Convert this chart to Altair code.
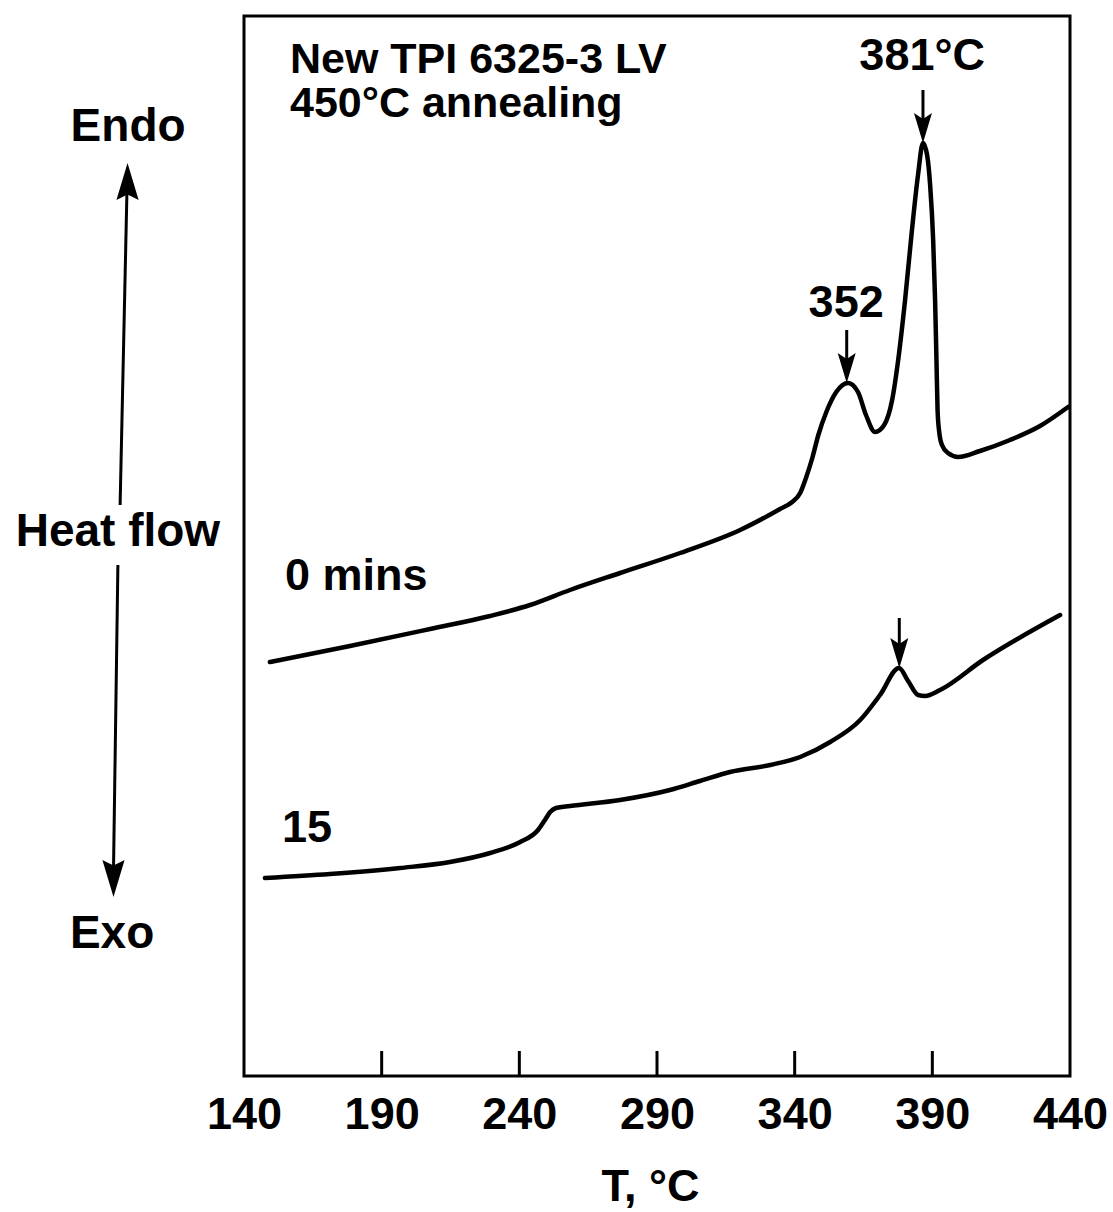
import altair as alt
import pandas as pd

FONT = "Liberation Sans"

# DSC trace, 0 mins annealing (T in deg C, heat flow in arbitrary units)
T_0 = [149.4, 178.5, 207.6, 229.4, 243.9, 258.4, 276.6, 298.4, 320.2, 334.7,
       339.1, 342.0, 344.1, 346.4, 348.6, 351.5, 355.1, 359.4, 363.0, 365.9,
       369.2, 372.5, 375.4, 377.6, 380.1, 382.6, 384.8, 386.6, 388.1, 389.2,
       390.3, 391.0, 391.5, 391.9, 392.5, 393.5, 395.7, 399.4, 407.3, 418.2,
       429.1, 439.3]
HF_0 = [41.4, 43.0, 44.7, 46.0, 47.1, 48.6, 50.3, 52.3, 54.6, 56.7,
        57.4, 58.3, 59.8, 61.8, 64.1, 66.4, 68.4, 69.3, 68.4, 66.1,
        64.4, 65.1, 67.6, 71.6, 77.6, 84.6, 90.1, 93.3, 92.1, 89.1,
        83.6, 77.6, 71.6, 66.6, 64.4, 63.1, 62.3, 61.9, 62.5, 63.6,
        65.0, 66.9]

# DSC trace, 15 mins annealing
T_15 = [147.6, 171.2, 196.7, 214.8, 229.4, 240.3, 246.8, 249.3, 251.2, 253.3,
        258.4, 276.6, 294.7, 305.6, 316.5, 331.1, 342.0, 352.9, 363.8, 371.0,
        377.9, 381.2, 384.8, 387.4, 392.8, 408.4, 436.4]
HF_15 = [19.8, 20.2, 20.8, 21.4, 22.3, 23.4, 24.6, 25.6, 26.4, 26.8,
         27.0, 27.6, 28.6, 29.5, 30.4, 31.1, 31.9, 33.4, 35.6, 38.1,
         40.8, 39.5, 38.1, 38.0, 38.6, 41.6, 46.1]

TICK_LABELS = [140, 190, 240, 290, 340, 390, 440]
INNER_TICKS = [190, 240, 290, 340, 390]

# peak arrows inside the plot
ARROW_T = [386.6, 358.9, 378.0]
ARROW_FROM = [98.6, 74.6, 45.8]
ARROW_TIP = [93.3, 69.3, 40.8]

# text annotations inside the plot
LABEL_TEXT = ["New TPI 6325-3 LV", "450°C annealing", "0 mins", "15"]
LABEL_T = [156.7, 156.7, 154.9, 153.8]
LABEL_HF = [100.3, 95.9, 48.6, 23.4]
LABEL_SIZE = [43, 43, 45, 45]
PEAK_TEXT = ["381°C", "352"]
PEAK_T = [386.3, 358.7]
PEAK_HF = [100.6, 75.9]

# heat flow direction annotation (left of the frame)
SIDE_TEXT = ["Endo", "Heat flow", "Exo"]
SIDE_T = [97.9, 94.2, 92.1]
SIDE_HF = [93.5, 53.0, 12.8]
SHAFT_T = [95.0, 94.2]
SHAFT_T2 = [97.5, 92.6]
SHAFT_HF = [57.1, 51.1]
SHAFT_HF2 = [88.6, 20.6]
HEAD_T = [97.7, 92.6]
HEAD_HF = [89.45, 19.75]
HEAD_DIR = ["up", "down"]

curves = pd.DataFrame({
    "T": T_0 + T_15,
    "HF": HF_0 + HF_15,
    "run": ["0 mins"] * len(T_0) + ["15"] * len(T_15),
})

xs = alt.Scale(domain=[140, 440], nice=False, zero=False)
ys = alt.Scale(domain=[0, 106], nice=False, zero=False)

x_axis = alt.Axis(
    values=TICK_LABELS, ticks=False, tickSize=0, domain=False, grid=False,
    labelFont=FONT, labelFontSize=45, labelFontWeight="bold", labelColor="black",
    labelPadding=16, labelFlush=False, labelOverlap=False,
    title="T, °C", titleFont=FONT, titleFontSize=45, titleFontWeight="bold",
    titleColor="black", titleX=406, titleY=124, titleBaseline="alphabetic",
    titleAlign="center", titleAngle=0,
)

X = alt.X("T:Q", scale=xs, axis=x_axis)
Y = alt.Y("HF:Q", scale=ys, axis=None)

lines = alt.Chart(curves).mark_line(
    interpolate="monotone", color="black", strokeWidth=4.5,
    strokeCap="round", strokeJoin="round"
).encode(x=X, y=Y, detail="run:N")

ticks_df = pd.DataFrame({"T": INNER_TICKS, "HF": [0.0] * len(INNER_TICKS),
                         "HF2": [2.5] * len(INNER_TICKS)})
ticks = alt.Chart(ticks_df).mark_rule(color="black", strokeWidth=3).encode(
    x=X, y=Y, y2="HF2:Q")

arrows_df = pd.DataFrame({
    "T": ARROW_T, "HF": ARROW_FROM,
    "HF2": [t + 1.5 for t in ARROW_TIP],
    "HEAD": [t + 1.5 for t in ARROW_TIP],
})
shafts = alt.Chart(arrows_df).mark_rule(color="black", strokeWidth=3).encode(
    x=X, y=Y, y2="HF2:Q")
heads = alt.Chart(arrows_df).mark_point(
    shape="M-0.6,-1L0,-0.6L0.6,-1L0,1Z", size=900, filled=True,
    color="black", opacity=1, strokeWidth=0
).encode(x=X, y=alt.Y("HEAD:Q", scale=ys, axis=None))

labels_df = pd.DataFrame({"T": LABEL_T, "HF": LABEL_HF, "txt": LABEL_TEXT,
                          "fs": LABEL_SIZE})
labels = alt.Chart(labels_df).mark_text(
    align="left", baseline="alphabetic", font=FONT, fontWeight="bold",
    color="black"
).encode(x=X, y=Y, text="txt:N",
         size=alt.Size("fs:Q", scale=None, legend=None))

peaks_df = pd.DataFrame({"T": PEAK_T, "HF": PEAK_HF, "txt": PEAK_TEXT})
peaks = alt.Chart(peaks_df).mark_text(
    align="center", baseline="alphabetic", font=FONT, fontWeight="bold",
    fontSize=45, color="black"
).encode(x=X, y=Y, text="txt:N")

side_df = pd.DataFrame({"T": SIDE_T, "HF": SIDE_HF, "txt": SIDE_TEXT})
side = alt.Chart(side_df).mark_text(
    align="center", baseline="alphabetic", font=FONT, fontWeight="bold",
    fontSize=46, color="black"
).encode(x=X, y=Y, text="txt:N")

side_shaft_df = pd.DataFrame({"T": SHAFT_T, "T2": SHAFT_T2,
                              "HF": SHAFT_HF, "HF2": SHAFT_HF2})
side_shafts = alt.Chart(side_shaft_df).mark_rule(color="black", strokeWidth=3).encode(
    x=X, x2="T2:Q", y=Y, y2="HF2:Q")

side_head_df = pd.DataFrame({"T": HEAD_T, "HF": HEAD_HF, "dir": HEAD_DIR})
side_heads = alt.Chart(side_head_df).mark_point(
    filled=True, color="black", opacity=1, strokeWidth=0, size=1369
).encode(
    x=X, y=Y,
    shape=alt.Shape("dir:N", scale=alt.Scale(
        domain=["up", "down"],
        range=["M-0.6,1L0,0.7L0.6,1L0,-1Z", "M-0.6,-1L0,-0.7L0.6,-1L0,1Z"]),
        legend=None),
)

chart = alt.layer(
    lines, ticks, shafts, heads, labels, peaks, side, side_shafts, side_heads
).properties(
    width=826, height=1060,
    padding={"left": 244, "top": 16, "right": 43, "bottom": 136},
    autosize=alt.AutoSizeParams(type="none"),
    background="white",
).configure_view(stroke="black", strokeWidth=3)

chart.save("out.html", embed_options={"renderer": "svg", "actions": False})
